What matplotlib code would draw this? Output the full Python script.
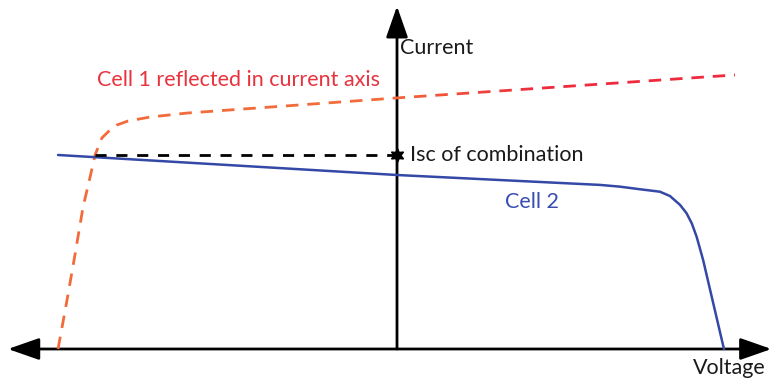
import numpy as np
import matplotlib
matplotlib.use("Agg")
import matplotlib.pyplot as plt
from matplotlib.colors import to_rgb
from matplotlib.transforms import Bbox, TransformedBbox

# ---- data (voltage / current in arbitrary units, origin at axis crossing) ----
cell2_v = [-1.043, 0.0, 0.625, 0.686, 0.748, 0.809, 0.840, 0.871, 0.891,
           0.907, 0.922, 0.942, 1.006]
cell2_i = [1.115, 1.0, 0.943, 0.933, 0.918, 0.904, 0.879, 0.828, 0.780,
           0.722, 0.645, 0.511, 0.0]

cell1_v = [-1.043, -1.018, -0.991, -0.966, -0.945, -0.929, -0.908, -0.883,
           -0.862, -0.828, -0.760, -0.646, 0.0, 1.04]
cell1_i = [0.0, 0.253, 0.540, 0.816, 0.983, 1.115, 1.213, 1.259,
           1.287, 1.310, 1.333, 1.356, 1.443, 1.575]

isc_comb = 1.115          # short-circuit current of the combination
isc_start_v = -0.929      # where cell 1 reaches isc_comb

labels = {
    "current": "Current",
    "voltage": "Voltage",
    "cell1": "Cell 1 reflected in current axis",
    "cell2": "Cell 2",
    "isc": "Isc of combination",
}

# ---- figure ----
W, H, DPI = 771, 385, 100
fig = plt.figure(figsize=(W / DPI, H / DPI), dpi=DPI)
ax = fig.add_axes([0, 0, 1, 1])
ax.set_xlim(-397 / 325, 374 / 325)
ax.set_ylim(-36 / 174, 349 / 174)
ax.axis("off")

FONT = "Lato"
FS = 15.5

# axes arrows
ax.annotate("", xy=(1.152, 0), xytext=(-1.197, 0),
            arrowprops=dict(arrowstyle="<|-|>,head_length=1.2,head_width=0.42",
                            color="black", lw=2, shrinkA=0, shrinkB=0,
                            mutation_scale=16))
ax.annotate("", xy=(0, 1.97), xytext=(0, 0),
            arrowprops=dict(arrowstyle="-|>,head_length=1.2,head_width=0.42",
                            color="black", lw=2, shrinkA=0, shrinkB=0,
                            mutation_scale=16))

# cell 2
blue = "#3448a6"
ax.plot(cell2_v, cell2_i, color=blue, lw=1.8, solid_capstyle="round",
        solid_joinstyle="round", zorder=4)

# cell 1 (dashed, orange -> red gradient)
orange = np.array(to_rgb("#f26b3a"))
red = np.array(to_rgb("#ee2a3c"))
edges = np.concatenate([[-1.4], np.linspace(-0.05, 0.45, 26), [1.3]])
for a, b in zip(edges[:-1], edges[1:]):
    t = np.clip(((a + b) / 2 + 0.05) / 0.5, 0, 1)
    col = orange * (1 - t) + red * t
    ln, = ax.plot(cell1_v, cell1_i, color=col, lw=2.0, dashes=(4.5, 3.2),
                  zorder=3)
    bb = TransformedBbox(Bbox([[a, -1], [b, 3]]), ax.transData)
    ln.set_clip_box(bb)

# Isc of combination
ax.plot([isc_start_v, 0], [isc_comb, isc_comb], color="black", lw=2.0,
        dashes=(4, 3.5), zorder=5)
ax.plot([0], [isc_comb], marker=(6, 1, 0), color="black", ms=10, zorder=6)

# texts
ax.text(0.009, 1.73, labels["current"], fontsize=FS, family=FONT,
        color="#1a1a1a", va="center", ha="left")
ax.text(0.911, -0.109, labels["voltage"], fontsize=FS, family=FONT,
        color="#1a1a1a", va="center", ha="left")
ax.text(-0.923, 1.546, labels["cell1"], fontsize=FS, family=FONT,
        color="#e8333f", va="center", ha="left")
ax.text(0.332, 0.845, labels["cell2"], fontsize=FS, family=FONT,
        color="#3a4db0", va="center", ha="left")
ax.text(0.04, isc_comb, labels["isc"], fontsize=FS, family=FONT,
        color="#1a1a1a", va="center", ha="left")

fig.savefig("out.png", dpi=DPI, facecolor="white")
